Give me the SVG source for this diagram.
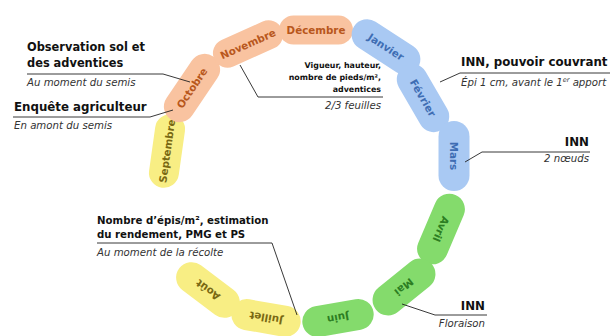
<svg xmlns="http://www.w3.org/2000/svg" width="613" height="336" viewBox="0 0 613 336">
<style>
.pill{stroke:none}
.or{fill:#F9C3A0}.ort{fill:#B8571C}
.bl{fill:#A9C9F3}.blt{fill:#3E6DB3}
.gr{fill:#84DB6C}.grt{fill:#2C7D22}
.ye{fill:#F8EE84}.yet{fill:#786812}
.m{font-family:"DejaVu Sans","Verdana",sans-serif;font-weight:bold;font-size:10.3px;text-anchor:middle}
.b{font-family:"DejaVu Sans","Verdana",sans-serif;font-weight:bold;fill:#111}
.i{font-family:"DejaVu Sans","Verdana",sans-serif;font-style:italic;fill:#333;font-size:10.2px}
.ln{fill:none;stroke:#222;stroke-width:0.9}
</style>
<rect width="613" height="336" fill="#fff"/>
<g id="months">
<g id="septembre" transform="translate(167,151) rotate(-82)"><rect class="pill ye" x="-37" y="-15" width="74" height="30" rx="15"/><text class="m yet" y="3.7">Septembre</text></g>
<g id="octobre" transform="translate(192,88) rotate(-56)"><rect class="pill or" x="-38" y="-15.5" width="76" height="31" rx="15.5"/><text class="m ort" y="3.7">Octobre</text></g>
<g id="novembre" transform="translate(248,44) rotate(-24)"><rect class="pill or" x="-37" y="-14.5" width="74" height="29" rx="14.5"/><text class="m ort" y="3.7">Novembre</text></g>
<g id="decembre" transform="translate(316,30) rotate(0)"><rect class="pill or" x="-37" y="-14.5" width="74" height="29" rx="14.5"/><text class="m ort" y="3.7">Décembre</text></g>
<g id="janvier" transform="translate(386,47) rotate(33)"><rect class="pill bl" x="-38" y="-15.5" width="76" height="31" rx="15.5"/><text class="m blt" y="3.7">Janvier</text></g>
<g id="fevrier" transform="translate(423,98) rotate(60)"><rect class="pill bl" x="-37" y="-15.5" width="74" height="31" rx="15.5"/><text class="m blt" y="3.7">Février</text></g>
<g id="mars" transform="translate(454,156) rotate(90)"><rect class="pill bl" x="-35" y="-15.5" width="70" height="31" rx="15.5"/><text class="m blt" y="3.7">Mars</text></g>
<g id="avril" transform="translate(441,229) rotate(113)"><rect class="pill gr" x="-37" y="-15.5" width="74" height="31" rx="15.5"/><text class="m grt" y="3.7">Avril</text></g>
<g id="mai" transform="translate(404,287) rotate(141)"><rect class="pill gr" x="-36" y="-15.5" width="72" height="31" rx="15.5"/><text class="m grt" y="3.7">Mai</text></g>
<g id="juin" transform="translate(338,318) rotate(170)"><rect class="pill gr" x="-36" y="-15.5" width="72" height="31" rx="15.5"/><text class="m grt" y="3.7">Juin</text></g>
<g id="juillet" transform="translate(266,318) rotate(190)"><rect class="pill ye" x="-35" y="-15.5" width="70" height="31" rx="15.5"/><text class="m yet" y="3.7">Juillet</text></g>
<g id="aout" transform="translate(208,290) rotate(217)"><rect class="pill ye" x="-36" y="-15.5" width="72" height="31" rx="15.5"/><text class="m yet" y="3.7">Août</text></g>
</g>
<g id="connectors">
<polyline class="ln" points="27,74 163,74 190,82"/>
<polyline class="ln" points="13,117 150,117 173,110"/>
<polyline class="ln" points="240,65 258,97 383,97"/>
<polyline class="ln" points="440,82 460,73 610,73"/>
<polyline class="ln" points="465,162 482,152 590,152"/>
<polyline class="ln" points="97,243 272,243 297,315"/>
<polyline class="ln" points="402,304 435,315 487,315"/>
</g>
<g id="note-observation">
<text class="b" font-size="11.4" x="27" y="51">Observation sol et</text>
<text class="b" font-size="11.4" x="27" y="67">des adventices</text>
<text class="i" x="27" y="86">Au moment du semis</text>
</g>
<g id="note-enquete">
<text class="b" font-size="11.8" x="14" y="111">Enquête agriculteur</text>
<text class="i" x="14" y="129">En amont du semis</text>
</g>
<g id="note-vigueur">
<text class="b" font-size="7.9" x="381" y="68" text-anchor="end">Vigueur, hauteur,</text>
<text class="b" font-size="7.9" x="381" y="80" text-anchor="end">nombre de pieds/m²,</text>
<text class="b" font-size="7.9" x="381" y="92" text-anchor="end">adventices</text>
<text class="i" x="381" y="109" text-anchor="end">2/3 feuilles</text>
</g>
<g id="note-inn1">
<text class="b" font-size="11.8" x="461" y="66">INN, pouvoir couvrant</text>
<text class="i" x="461" y="86">Épi 1 cm, avant le 1<tspan font-size="6.5" dy="-4">er</tspan><tspan dy="4"> apport</tspan></text>
</g>
<g id="note-inn2">
<text class="b" font-size="11.8" x="589" y="146" text-anchor="end">INN</text>
<text class="i" x="589" y="162" text-anchor="end">2 nœuds</text>
</g>
<g id="note-recolte">
<text class="b" font-size="10.2" x="97" y="224">Nombre d’épis/m², estimation</text>
<text class="b" font-size="10.2" x="97" y="238">du rendement, PMG et PS</text>
<text class="i" x="97" y="256">Au moment de la récolte</text>
</g>
<g id="note-inn3">
<text class="b" font-size="11.8" x="485" y="310" text-anchor="end">INN</text>
<text class="i" x="485" y="327" text-anchor="end">Floraison</text>
</g>
</svg>
